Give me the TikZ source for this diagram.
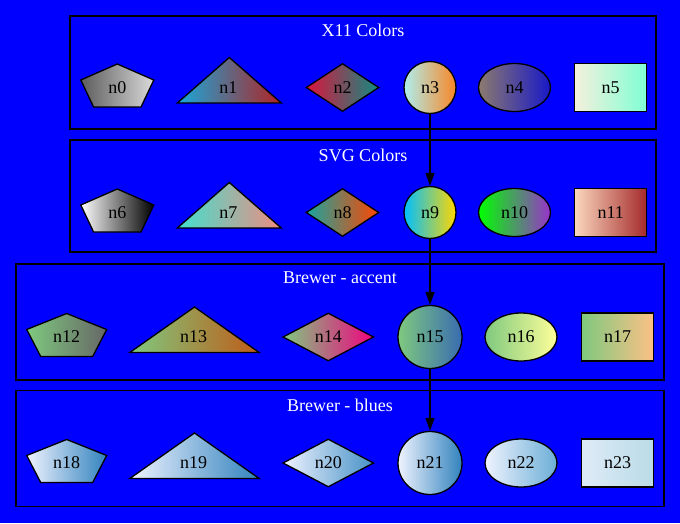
\documentclass[tikz,border=0pt]{standalone}
\usepackage{fontspec}
\setmainfont{Liberation Serif}
\usetikzlibrary{shapes.geometric,arrows.meta}
\definecolor{bgblue}{HTML}{0000FF}
\definecolor{ca0}{HTML}{5C5C5C}\definecolor{cb0}{HTML}{DADADA}
\definecolor{ca1}{HTML}{18A8DC}\definecolor{cb1}{HTML}{B22222}
\definecolor{ca2}{HTML}{DC143C}\definecolor{cb2}{HTML}{108C82}
\definecolor{ca3}{HTML}{AFEEEE}\definecolor{cb3}{HTML}{F88626}
\definecolor{ca4}{HTML}{8C7A6E}\definecolor{cb4}{HTML}{1818C8}
\definecolor{ca5}{HTML}{F5F0DC}\definecolor{cb5}{HTML}{7FFFD4}
\definecolor{ca7}{HTML}{40E0D0}\definecolor{cb7}{HTML}{F08C80}
\definecolor{ca8}{HTML}{18A5A0}\definecolor{cb8}{HTML}{FF4500}
\definecolor{ca9}{HTML}{00BFFF}\definecolor{cb9}{HTML}{FFD700}
\definecolor{ca10}{HTML}{00FF00}\definecolor{cb10}{HTML}{9932CC}
\definecolor{ca11}{HTML}{FAD7BE}\definecolor{cb11}{HTML}{A52A2A}
\definecolor{acc1}{HTML}{7FC97F}
\definecolor{cb12}{HTML}{666666}
\definecolor{cb13}{HTML}{BF5B17}
\definecolor{cb14}{HTML}{F0027F}
\definecolor{cb15}{HTML}{386CB0}
\definecolor{cb16}{HTML}{FFFF99}
\definecolor{cb17}{HTML}{FDC086}
\definecolor{blu1}{HTML}{EFF3FF}
\definecolor{cb18}{HTML}{3182BD}
\definecolor{cb20}{HTML}{4691C6}
\definecolor{cb22}{HTML}{6BAED6}
\definecolor{ca23}{HTML}{DEEBF7}\definecolor{cb23}{HTML}{B9DBE6}
\newcommand\pentshape[6]{%
  \begin{scope}[shift={(#2,#3)}]
    \shadedraw[outl,left color=#5,right color=#6] (0,23.5) -- (#4,7.5) -- (0.65*#4,-19.5) -- (-0.65*#4,-19.5) -- (-#4,7.5) -- cycle;
  \end{scope}
  \node[lab] (#1) at (#2,#3) {#1};}
\newcommand\trishape[6]{%
  \begin{scope}[shift={(#2,#3)}]
    \shadedraw[outl,left color=#5,right color=#6] (0,30) -- (#4,-15.5) -- (-#4,-15.5) -- cycle;
  \end{scope}
  \node[lab] (#1) at (#2-1,#3) {#1};}
\begin{document}
\begin{tikzpicture}[x=1pt,y=1pt,
  outl/.style={draw=black,line width=1.3pt},
  lab/.style={font=\fontsize{18}{21}\selectfont,text=black,inner sep=0pt},
  ttl/.style={font=\fontsize{18}{21}\selectfont,text=white,inner sep=0pt},
  cluster/.style={draw=black,line width=1.3pt},
  ell/.style={ellipse,outl,inner sep=0pt,font=\fontsize{18}{21}\selectfont,text=black},
  dia/.style={diamond,outl,inner sep=0pt,font=\fontsize{18}{21}\selectfont,text=black},
  box/.style={rectangle,outl,inner sep=0pt,font=\fontsize{18}{21}\selectfont,text=black},
  edge/.style={draw=black,line width=1.3pt,-{Triangle[length=13pt,width=9pt]}}
]
\fill[bgblue] (0,0) rectangle (680,523);
\useasboundingbox (0,0) rectangle (680,523);
% clusters
\draw[cluster] (70,394) rectangle (656,507);
\draw[cluster] (70,271) rectangle (656,383);
\draw[cluster] (16,143) rectangle (664,259);
\draw[cluster] (16,16.5) rectangle (664,132.5);
\node[ttl] (t1) at (363,493) {X11 Colors};
\node[ttl] (t2) at (363,368) {SVG Colors};
\node[ttl] (t3) at (340,245) {Brewer - accent};
\node[ttl] (t4) at (340,118) {Brewer - blues};
% row 1: X11
\pentshape{n0}{117.3}{435.5}{36.5}{ca0}{cb0}
\trishape{n1}{229.3}{435.5}{52}{ca1}{cb1}
\node[dia,minimum width=73pt,minimum height=48pt,left color=ca2,right color=cb2] (n2) at (342.5,435.5) {n2};
\node[ell,minimum width=52pt,minimum height=52pt,left color=ca3,right color=cb3] (n3) at (430,435.5) {n3};
\node[ell,minimum width=72pt,minimum height=48pt,left color=ca4,right color=cb4] (n4) at (514.5,435.5) {n4};
\node[box,minimum width=72pt,minimum height=48pt,left color=ca5,right color=cb5] (n5) at (610.7,435.5) {n5};
% row 2: SVG
\pentshape{n6}{117.3}{310.5}{36.5}{white}{black}
\trishape{n7}{229.3}{310.5}{52}{ca7}{cb7}
\node[dia,minimum width=73pt,minimum height=48pt,left color=ca8,right color=cb8] (n8) at (342.5,310.5) {n8};
\node[ell,minimum width=52pt,minimum height=52pt,left color=ca9,right color=cb9] (n9) at (430,310.5) {n9};
\node[ell,minimum width=72pt,minimum height=48pt,left color=ca10,right color=cb10] (n10) at (514.5,310.5) {n10};
\node[box,minimum width=72pt,minimum height=48pt,left color=ca11,right color=cb11] (n11) at (610.7,310.5) {n11};
% row 3: Brewer accent
\pentshape{n12}{66.7}{186}{40}{acc1}{cb12}
\trishape{n13}{194.5}{186}{64.7}{acc1}{cb13}
\node[dia,minimum width=91pt,minimum height=48pt,left color=acc1,right color=cb14] (n14) at (328.3,186) {n14};
\node[ell,minimum width=64pt,minimum height=63pt,left color=acc1,right color=cb15] (n15) at (430,186) {n15};
\node[ell,minimum width=72pt,minimum height=48pt,left color=acc1,right color=cb16] (n16) at (521,186) {n16};
\node[box,minimum width=72pt,minimum height=48pt,left color=acc1,right color=cb17] (n17) at (617.5,186) {n17};
% row 4: Brewer blues
\pentshape{n18}{66.7}{60}{40}{blu1}{cb18}
\trishape{n19}{194.5}{60}{64.7}{blu1}{cb18}
\node[dia,minimum width=91pt,minimum height=48pt,left color=blu1,right color=cb20] (n20) at (328.3,60) {n20};
\node[ell,minimum width=64pt,minimum height=63pt,left color=blu1,right color=cb18] (n21) at (430,60) {n21};
\node[ell,minimum width=72pt,minimum height=48pt,left color=blu1,right color=cb22] (n22) at (521,60) {n22};
\node[box,minimum width=72pt,minimum height=48pt,left color=ca23,right color=cb23] (n23) at (617.5,60) {n23};
% edges
\draw[edge] (n3) -- (n9);
\draw[edge] (n9) -- (n15);
\draw[edge] (n15) -- (n21);
\end{tikzpicture}
\end{document}
